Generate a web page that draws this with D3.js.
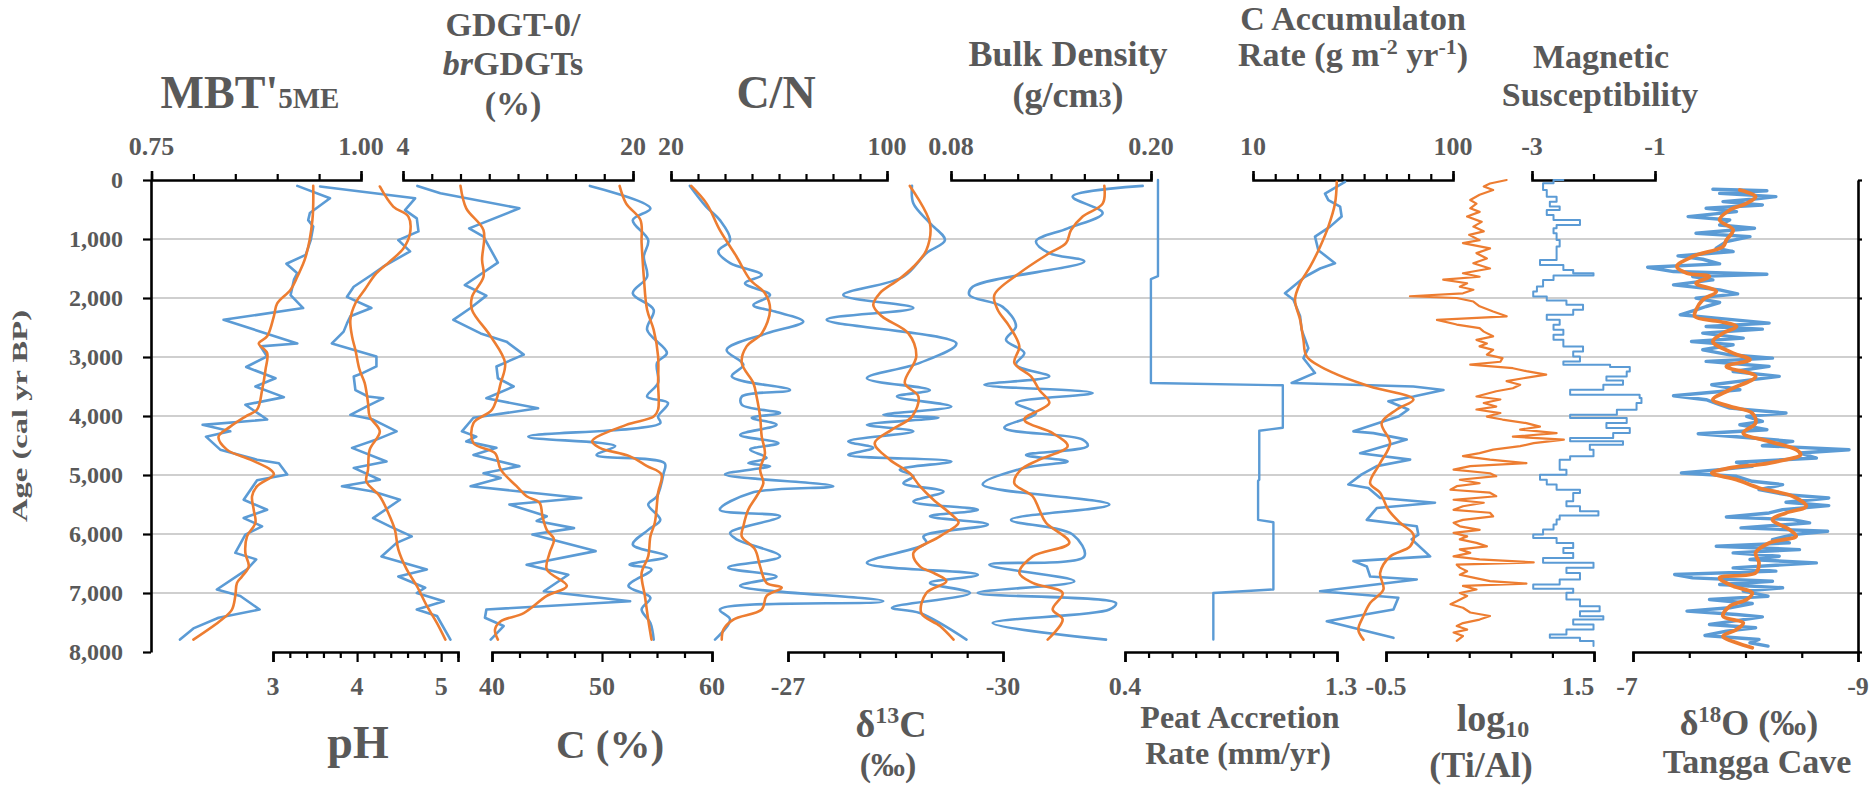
<!DOCTYPE html>
<html>
<head>
<meta charset="utf-8">
<script src="https://cdn.jsdelivr.net/npm/d3@7"></script>
<style>
  body { margin: 0; background: #fff; }
  svg text { font-family: "Liberation Serif", "Times New Roman", serif; font-weight: bold; fill: #595959; }
</style>
</head>
<body>
<svg id="chart" width="1872" height="787"></svg>
<script>
// ---- Core record, ages in cal yr BP; every series is [age, value] ----
const ageTicks = [0, 1000, 2000, 3000, 4000, 5000, 6000, 7000, 8000];

const mbtRaw = [[100,0.924],[310,0.963],[560,0.939],[680,0.937],[790,0.943],[1020,0.940],[1270,0.934],[1420,0.911],[1580,0.924],[1690,0.920],[1950,0.916],[2170,0.931],[2370,0.836],[2770,0.924],[2820,0.880],[2990,0.888],[3170,0.863],[3360,0.898],[3500,0.874],[3680,0.908],[3810,0.862],[4060,0.888],[4150,0.811],[4260,0.844],[4350,0.815],[4570,0.832],[4740,0.876],[4800,0.902],[4990,0.912],[5090,0.876],[5420,0.860],[5590,0.888],[5730,0.860],[5870,0.882],[6010,0.862],[6320,0.850],[6430,0.875],[6600,0.864],[6940,0.828],[7050,0.856],[7280,0.879],[7420,0.830],[7600,0.800],[7790,0.784]];
const mbtSmooth = [[100,0.943],[680,0.942],[1300,0.934],[1640,0.924],[1860,0.916],[2090,0.900],[2310,0.896],[2650,0.888],[2770,0.878],[2930,0.888],[3220,0.886],[3560,0.882],[3890,0.876],[4010,0.862],[4180,0.844],[4350,0.830],[4570,0.840],[4740,0.868],[4910,0.892],[4990,0.896],[5190,0.876],[5360,0.870],[5590,0.872],[5810,0.874],[6040,0.864],[6320,0.862],[6550,0.866],[6720,0.858],[6830,0.852],[7050,0.850],[7280,0.846],[7450,0.834],[7790,0.800]];

const phRaw = [[110,3.56],[310,4.69],[510,4.57],[650,4.71],[870,4.73],[1020,4.49],[1210,4.63],[1470,4.31],[1610,4.17],[1810,3.96],[1980,3.88],[2170,4.17],[2310,3.92],[2430,3.88],[2570,3.84],[2770,3.70],[2990,4.23],[3160,4.23],[3270,4.07],[3330,3.96],[3560,3.98],[3670,4.13],[3700,4.31],[3840,4.11],[3980,3.92],[4060,4.19],[4260,4.47],[4400,4.23],[4540,3.94],[4770,4.35],[4880,3.96],[5080,4.27],[5190,3.82],[5280,4.19],[5420,4.51],[5730,4.19],[5870,4.39],[6040,4.65],[6150,4.47],[6380,4.29],[6600,4.83],[6720,4.49],[6910,4.81],[7000,4.71],[7140,5.03],[7280,4.71],[7390,4.95],[7790,5.11]];
const phSmooth = [[110,4.27],[450,4.43],[620,4.61],[900,4.63],[1160,4.55],[1380,4.39],[1580,4.23],[1860,4.09],[2090,3.98],[2370,3.92],[2650,3.94],[2880,3.98],[3220,4.03],[3440,4.09],[3780,4.13],[4010,4.15],[4260,4.27],[4570,4.15],[4910,4.13],[5110,4.11],[5360,4.27],[5640,4.37],[5930,4.45],[6260,4.49],[6600,4.59],[6880,4.71],[7220,4.83],[7510,4.95],[7790,5.05]];

const gdgtRaw = [[100,5.0],[225,6.6],[480,12.1],[820,8.6],[960,9.6],[1400,10.6],[1780,8.3],[1960,9.8],[2170,8.7],[2370,7.5],[2600,9.4],[2740,11.2],[2960,12.4],[3160,10.5],[3360,10.6],[3500,11.7],[3700,9.8],[3870,13.4],[4030,8.9],[4260,8.1],[4350,9.1],[4430,8.4],[4540,10.5],[4660,8.9],[4850,12.1],[4970,9.6],[5050,10.8],[5190,8.7],[5390,16.4],[5500,11.4],[5700,14.0],[5780,13.3],[5900,15.9],[6010,13.0],[6290,17.4],[6520,12.6],[6690,15.5],[6970,13.8],[7140,19.8],[7280,9.8],[7420,9.7],[7560,11.0],[7790,10.1]];
const gdgtSmooth = [[100,8.0],[480,8.4],[850,9.6],[1350,9.5],[1640,9.6],[1980,8.8],[2200,8.8],[2650,10.1],[3100,11.1],[3440,10.8],[3890,10.2],[4120,8.9],[4460,8.9],[4630,10.4],[4910,10.8],[5190,11.9],[5360,12.6],[5470,13.5],[5700,13.7],[5930,14.0],[6090,14.5],[6320,14.2],[6600,14.0],[6880,15.4],[7050,14.0],[7340,12.4],[7480,10.8],[7620,10.4],[7790,10.6]];

const carbonRaw = [[100,48.9],[480,54.4],[680,52.8],[1020,54.2],[1300,53.8],[1640,54.1],[1920,52.8],[2200,54.7],[2540,54.1],[2930,55.9],[3100,55.0],[3440,55.1],[3670,54.1],[3780,56.0],[4010,55.1],[4120,55.3],[4350,43.3],[4510,51.2],[4660,49.5],[4800,55.7],[4970,55.6],[5360,55.0],[5500,54.2],[5760,55.3],[5930,54.2],[6180,52.8],[6380,55.9],[6520,52.5],[6600,54.5],[6880,52.4],[7080,54.4],[7280,53.6],[7510,54.4],[7790,54.7]];
const carbonSmooth = [[100,51.6],[400,52.2],[680,53.5],[1070,53.6],[1640,53.8],[2200,54.1],[2540,54.7],[2990,55.1],[3440,55.1],[3890,55.1],[4010,54.7],[4150,52.2],[4430,49.1],[4540,49.8],[4680,52.5],[4850,54.1],[4990,55.4],[5300,55.1],[5810,54.8],[6040,54.4],[6380,54.2],[6660,53.6],[7050,53.9],[7450,54.2],[7790,54.5]];

const cnRaw = [[100,27.0],[450,33.0],[680,38.1],[1020,41.9],[1210,37.5],[1410,41.9],[1610,53.6],[1750,47.4],[1950,56.7],[2120,50.5],[2230,58.5],[2400,69.0],[2600,55.4],[2880,40.6],[3130,46.8],[3330,42.5],[3560,64.1],[3670,46.2],[3810,46.2],[3950,60.4],[4030,49.9],[4150,59.1],[4320,45.6],[4460,59.8],[4570,49.3],[4710,55.4],[4800,48.6],[4850,56.7],[4990,40.0],[5190,80.1],[5300,49.9],[5590,38.1],[5700,60.4],[5980,41.9],[6090,44.3],[6380,60.4],[6570,41.2],[6720,59.1],[6880,45.6],[7140,98.6],[7280,38.1],[7450,41.9],[7790,36.3]];
const cnSmooth = [[100,27.5],[400,33.2],[850,38.1],[1300,44.3],[1690,49.3],[1920,54.8],[2200,56.7],[2600,53.6],[2820,48.0],[3100,46.2],[3440,50.5],[3670,51.7],[4010,53.0],[4350,53.6],[4630,54.8],[4910,53.0],[5140,54.2],[5360,51.7],[5590,48.6],[5870,46.8],[6040,46.2],[6260,51.1],[6550,53.0],[6830,55.4],[6910,61.0],[7050,55.4],[7280,53.6],[7450,43.1],[7620,39.4],[7790,38.8]];

const d13cRaw = [[100,-28.73],[400,-28.75],[730,-28.98],[1020,-29.19],[1240,-28.93],[1640,-28.61],[1950,-27.77],[2170,-28.75],[2370,-27.54],[2770,-29.35],[3100,-28.84],[3360,-28.10],[3560,-28.98],[3670,-28.52],[3840,-29.28],[3980,-28.33],[4030,-29.10],[4150,-28.10],[4260,-28.75],[4430,-27.84],[4540,-28.19],[4660,-27.84],[4770,-29.28],[4910,-28.56],[5020,-28.75],[5140,-28.61],[5280,-29.17],[5450,-28.75],[5590,-29.65],[5700,-28.98],[5840,-29.79],[6040,-28.89],[6150,-28.93],[6490,-28.10],[6690,-29.65],[6830,-28.98],[7000,-29.54],[7250,-28.45],[7340,-28.84],[7790,-29.49]];
const d13cSmooth = [[100,-28.70],[730,-28.98],[1190,-28.93],[1470,-28.75],[1690,-28.54],[1920,-28.28],[2120,-28.19],[2310,-28.31],[2600,-28.68],[2990,-28.79],[3440,-28.63],[3670,-28.82],[4010,-28.73],[4230,-28.45],[4460,-28.21],[4740,-28.42],[4970,-28.70],[5190,-28.84],[5420,-29.03],[5700,-29.31],[5810,-29.38],[6040,-29.12],[6320,-28.75],[6550,-28.84],[6660,-29.03],[6800,-29.21],[7000,-28.93],[7340,-28.86],[7560,-29.12],[7790,-29.31]];

const bdRaw = [[100,0.195],[280,0.153],[560,0.171],[820,0.150],[1040,0.131],[1240,0.139],[1380,0.160],[1810,0.093],[1950,0.091],[2150,0.111],[2480,0.119],[2710,0.113],[2930,0.124],[3130,0.119],[3330,0.139],[3470,0.100],[3610,0.165],[3780,0.119],[3950,0.131],[4200,0.112],[4400,0.159],[4510,0.162],[4660,0.125],[4770,0.150],[4880,0.124],[5160,0.099],[5500,0.175],[5760,0.116],[6010,0.153],[6380,0.160],[6520,0.103],[6800,0.154],[7000,0.096],[7170,0.179],[7280,0.175],[7510,0.105],[7790,0.173]];
const bdSmooth = [[100,0.172],[400,0.171],[620,0.159],[850,0.152],[1070,0.149],[1240,0.139],[1580,0.121],[1950,0.106],[2200,0.108],[2480,0.115],[2820,0.121],[3100,0.118],[3330,0.128],[3560,0.133],[3780,0.139],[4060,0.124],[4290,0.141],[4510,0.150],[4740,0.133],[4910,0.122],[5140,0.118],[5360,0.129],[5590,0.133],[5810,0.137],[6150,0.151],[6380,0.129],[6660,0.121],[6830,0.129],[7000,0.147],[7280,0.141],[7450,0.147],[7790,0.138]];

const peatRate = [[0,0.54],[1630,0.54],[1680,0.51],[3440,0.51],[3480,1.07],[4200,1.07],[4250,0.97],[5080,0.97],[5100,0.965],[5760,0.965],[5800,1.03],[6940,1.03],[7000,0.775],[7790,0.775]];

const caccRaw = [[30,51.4],[230,42.4],[340,43.9],[450,49.2],[620,49.9],[790,44.7],[960,37.9],[1190,39.4],[1410,46.9],[1500,40.2],[1640,33.4],[1920,24.4],[2030,28.2],[2310,31.2],[2540,31.9],[2850,34.9],[3020,32.7],[3270,37.9],[3440,27.4],[3500,82.2],[3560,95.7],[3670,82.2],[3750,70.9],[3890,79.9],[4010,75.4],[4260,55.2],[4290,64.2],[4400,79.2],[4630,58.2],[4740,80.7],[4850,65.7],[4990,58.9],[5160,52.9],[5220,61.9],[5390,67.2],[5470,91.9],[5560,65.7],[5760,61.2],[5870,83.7],[6010,84.4],[6090,81.4],[6380,89.7],[6460,55.2],[6550,61.2],[6720,62.7],[6770,83.7],[6970,40.2],[7080,75.4],[7280,73.2],[7480,43.2],[7620,58.2],[7760,73.2]];
const caccSmooth = [[30,47.7],[400,46.9],[790,43.9],[1130,40.2],[1470,35.7],[1750,31.2],[2030,28.9],[2370,31.2],[2710,32.7],[2990,34.2],[3270,46.2],[3500,62.7],[3720,82.2],[3890,74.7],[4120,67.9],[4460,71.7],[4800,67.2],[5140,62.7],[5300,67.2],[5590,70.9],[5810,76.2],[6010,82.2],[6210,80.7],[6380,71.7],[6660,67.2],[6940,68.7],[7170,62.7],[7390,59.7],[7620,57.4],[7790,59.7]];

const tiAl = [[0,0.66],[60,0.50],[110,0.44],[170,0.53],[250,0.40],[340,0.31],[400,0.37],[480,0.31],[540,0.40],[620,0.28],[710,0.42],[790,0.34],[870,0.44],[930,0.30],[1020,0.40],[1070,0.24],[1160,0.50],[1240,0.37],[1330,0.47],[1410,0.34],[1500,0.50],[1580,0.24],[1640,0.40],[1690,0.05],[1750,0.28],[1810,0.21],[1860,0.34],[1920,0.24],[1970,-0.27],[2000,0.18],[2060,0.34],[2140,0.40],[2230,0.53],[2310,0.66],[2370,-0.01],[2450,0.18],[2510,0.40],[2570,0.44],[2650,0.53],[2710,0.37],[2770,0.47],[2820,0.40],[2880,0.53],[2960,0.47],[3020,0.62],[3080,0.60],[3130,0.31],[3190,0.72],[3240,0.85],[3300,1.04],[3360,0.82],[3410,0.66],[3470,0.79],[3530,0.72],[3580,0.56],[3670,0.37],[3720,0.60],[3780,0.44],[3840,0.56],[3890,0.37],[3950,0.60],[4010,0.47],[4060,0.62],[4120,0.85],[4180,0.98],[4230,0.79],[4290,1.14],[4350,0.72],[4400,1.21],[4460,0.92],[4510,0.79],[4570,0.53],[4630,0.40],[4680,0.24],[4740,0.50],[4800,0.85],[4850,0.31],[4910,0.15],[4970,0.50],[5020,0.56],[5080,0.21],[5140,0.40],[5190,0.18],[5250,0.12],[5300,0.50],[5360,0.56],[5420,0.15],[5470,0.44],[5530,0.24],[5590,0.15],[5640,0.50],[5700,0.53],[5760,0.24],[5810,0.15],[5870,0.21],[5930,0.40],[5980,0.15],[6040,0.28],[6090,0.21],[6150,0.37],[6210,0.47],[6260,0.21],[6320,0.31],[6380,0.15],[6430,0.40],[6480,0.92],[6520,0.18],[6570,0.21],[6630,0.28],[6690,0.21],[6740,0.34],[6800,0.50],[6840,0.85],[6880,0.24],[6940,0.37],[7000,0.21],[7050,0.28],[7140,0.18],[7190,0.12],[7250,0.24],[7330,0.31],[7390,0.50],[7450,0.40],[7510,0.24],[7560,0.18],[7620,0.28],[7670,0.15],[7730,0.24],[7810,0.18]];

const magSus = [[0,-2.49],[56,-2.65],[169,-2.82],[282,-2.76],[367,-2.60],[451,-2.71],[508,-2.55],[593,-2.76],[677,-2.65],[762,-2.22],[818,-2.60],[903,-2.65],[1016,-2.60],[1129,-2.55],[1241,-2.60],[1354,-2.60],[1439,-2.87],[1524,-2.49],[1580,-2.33],[1620,-2.00],[1693,-2.65],[1806,-2.82],[1890,-2.92],[1975,-2.98],[2043,-2.76],[2116,-2.44],[2201,-2.17],[2285,-2.33],[2370,-2.76],[2455,-2.55],[2539,-2.65],[2624,-2.49],[2709,-2.65],[2822,-2.49],[2906,-2.17],[2991,-2.33],[3075,-2.22],[3132,-2.49],[3171,-1.73],[3245,-1.41],[3329,-1.46],[3397,-1.79],[3470,-1.52],[3555,-1.84],[3640,-2.38],[3696,-1.25],[3781,-1.22],[3894,-1.30],[3978,-1.62],[4035,-2.38],[4119,-1.46],[4204,-1.79],[4289,-1.41],[4373,-1.68],[4430,-2.38],[4486,-1.52],[4571,-2.06],[4684,-2.00],[4740,-2.38],[4797,-2.55],[4909,-2.55],[4994,-2.44],[5079,-2.87],[5163,-2.76],[5248,-2.60],[5304,-2.22],[5361,-2.33],[5446,-2.33],[5530,-2.44],[5615,-2.22],[5688,-1.92],[5756,-2.55],[5840,-2.60],[5925,-2.65],[6010,-2.82],[6066,-2.98],[6151,-2.60],[6236,-2.33],[6320,-2.49],[6405,-2.33],[6489,-2.82],[6574,-2.00],[6659,-2.44],[6772,-2.22],[6856,-2.55],[6930,-2.98],[6997,-2.33],[7110,-2.44],[7223,-2.22],[7308,-1.90],[7392,-2.22],[7449,-1.84],[7533,-2.33],[7618,-2.00],[7703,-2.44],[7759,-2.71],[7815,-2.22],[7900,-2.00]];

const d18oRaw = [[158,-7.71],[181,-8.19],[226,-7.77],[282,-8.27],[327,-8.06],[367,-7.80],[423,-8.15],[480,-7.65],[536,-7.92],[621,-7.49],[677,-7.86],[762,-7.77],[818,-8.08],[903,-7.56],[959,-8.04],[1044,-7.83],[1157,-7.74],[1213,-7.89],[1287,-7.40],[1343,-7.62],[1422,-7.77],[1478,-7.13],[1552,-7.36],[1597,-8.19],[1636,-7.53],[1693,-7.71],[1778,-7.36],[1862,-7.77],[1930,-7.93],[2003,-7.56],[2077,-7.77],[2144,-7.65],[2201,-7.56],[2285,-7.42],[2342,-7.74],[2426,-8.21],[2483,-7.65],[2528,-8.15],[2596,-7.62],[2680,-7.98],[2737,-7.52],[2793,-7.89],[2878,-7.62],[2963,-7.86],[3019,-8.24],[3075,-7.65],[3160,-8.21],[3245,-7.89],[3329,-8.30],[3397,-8.01],[3470,-7.70],[3555,-7.95],[3657,-7.36],[3724,-7.65],[3809,-7.77],[3866,-7.86],[3950,-8.36],[4006,-8.01],[4091,-8.15],[4148,-7.95],[4232,-8.19],[4300,-7.58],[4373,-8.06],[4430,-8.42],[4503,-8.15],[4571,-8.92],[4627,-8.48],[4712,-8.63],[4785,-7.92],[4853,-8.06],[4909,-7.77],[4966,-7.43],[5022,-7.92],[5107,-8.06],[5163,-8.33],[5248,-8.12],[5333,-8.36],[5389,-8.74],[5462,-8.36],[5519,-8.74],[5587,-8.33],[5643,-8.21],[5711,-7.83],[5756,-8.42],[5812,-8.57],[5897,-7.96],[5953,-8.73],[6010,-8.42],[6094,-8.24],[6151,-8.39],[6207,-7.74],[6264,-8.48],[6320,-7.89],[6377,-8.30],[6433,-8.04],[6489,-8.63],[6574,-7.89],[6630,-8.27],[6687,-7.37],[6743,-7.53],[6800,-8.24],[6856,-7.77],[6912,-8.33],[6969,-7.98],[7054,-8.20],[7110,-7.68],[7178,-8.06],[7251,-7.86],[7308,-7.48],[7364,-7.92],[7404,-8.15],[7477,-7.89],[7533,-7.68],[7590,-8.09],[7646,-7.83],[7720,-7.64],[7787,-8.12],[7844,-8.04],[7900,-8.20]];
const d18oSmooth = [[169,-7.95],[282,-8.09],[395,-8.01],[508,-7.86],[677,-7.77],[846,-7.89],[1016,-7.83],[1129,-7.80],[1298,-7.53],[1467,-7.39],[1580,-7.48],[1636,-7.68],[1749,-7.56],[1890,-7.74],[2031,-7.62],[2201,-7.56],[2314,-7.55],[2398,-7.77],[2483,-7.92],[2596,-7.80],[2737,-7.71],[2934,-7.89],[3047,-8.04],[3160,-7.83],[3329,-8.09],[3555,-7.86],[3724,-7.71],[3837,-7.86],[3950,-8.06],[4119,-8.09],[4289,-7.98],[4430,-8.21],[4571,-8.45],[4655,-8.49],[4797,-8.21],[4881,-7.86],[4966,-7.70],[5079,-7.92],[5220,-8.12],[5361,-8.42],[5530,-8.54],[5643,-8.36],[5756,-8.24],[5925,-8.39],[6038,-8.45],[6151,-8.21],[6320,-8.09],[6489,-8.12],[6659,-8.09],[6743,-7.77],[6884,-7.89],[6997,-8.06],[7110,-8.01],[7223,-7.86],[7392,-7.80],[7505,-7.98],[7618,-7.92],[7731,-7.80],[7844,-7.92],[7928,-8.06]];

// Axis tick positions and the end labels each axis carries: [value, text, nudge]
const mbtTicks = [0.75, 0.80, 0.85, 0.90, 0.95, 1.00];
const mbtLabels = [[0.75, "0.75", 0], [1.00, "1.00", 0]];
const gdgtTicks = [4, 6, 8, 10, 12, 14, 16, 18, 20];
const gdgtLabels = [[4, "4", 0], [20, "20", 0]];
const cnTicks = [20, 30, 40, 50, 60, 70, 80, 90, 100];
const cnLabels = [[20, "20", 0], [100, "100", 0]];
const bdTicks = [0.08, 0.10, 0.12, 0.14, 0.16, 0.18, 0.20];
const bdLabels = [[0.08, "0.08", 0], [0.20, "0.20", 0]];
const caccTicks = [10, 20, 30, 40, 50, 60, 70, 80, 90, 100];
const caccLabels = [[10, "10", 0], [100, "100", 0]];
const magTicks = [-3, -2, -1];
const magLabels = [[-3, "-3", 0], [-1, "-1", 0]];

const phTicks = [3.0, 3.2, 3.4, 3.6, 3.8, 4.0, 4.2, 4.4, 4.6, 4.8, 5.0, 5.2];
const phLabels = [[3, "3", 0], [4, "4", 0], [5, "5", 0]];
const carbonTicks = [40, 42.5, 45, 47.5, 50, 52.5, 55, 57.5, 60];
const carbonLabels = [[40, "40", 0], [50, "50", 0], [60, "60", 0]];
const d13cTicks = [-27, -27.5, -28, -28.5, -29, -29.5, -30];
const d13cLabels = [[-27, "-27", 0], [-30, "-30", 0]];
const peatTicks = [0.4, 0.5, 0.6, 0.7, 0.8, 0.9, 1.0, 1.1, 1.2, 1.3];
const peatLabels = [[0.4, "0.4", 0], [1.3, "1.3", 4]];
const tiAlTicks = [-0.5, -0.1, 0.3, 0.7, 1.1, 1.5];
const tiAlLabels = [[-0.5, "-0.5", 0], [1.5, "1.5", -16]];
const d18oTicks = [-7, -7.5, -8, -8.5, -9];
const d18oLabels = [[-7, "-7", -6], [-9, "-9", 0]];

// ---- Drawing ----
const BLUE = "#5B9BD5", ORANGE = "#ED7D31";
const svg = d3.select("#chart");
const TOP = 180, BOTTOM = 652, LEFT = 151, RIGHT = 1858;

const y = d3.scaleLinear().domain([0, 8000]).range([TOP, BOTTOM]);

const xMBT = d3.scaleLinear().domain([0.75, 1.00]).range([151.5, 361]);
const xPH = d3.scaleLinear().domain([3, 5.2]).range([273, 458]);
const xGDGT = d3.scaleLinear().domain([4, 20]).range([403, 633]);
const xC = d3.scaleLinear().domain([40, 60]).range([492, 712]);
const xCN = d3.scaleLinear().domain([20, 100]).range([671, 887]);
const xD13C = d3.scaleLinear().domain([-27, -30]).range([788, 1003]);
const xBD = d3.scaleLinear().domain([0.08, 0.20]).range([951, 1151]);
const xPeat = d3.scaleLinear().domain([0.4, 1.3]).range([1125, 1337]);
const xCacc = d3.scaleLinear().domain([10, 100]).range([1253, 1453]);
const xTiAl = d3.scaleLinear().domain([-0.5, 1.5]).range([1386, 1594]);
const xMag = d3.scaleLinear().domain([-3, -1]).range([1532, 1655]);
const xD18O = d3.scaleLinear().domain([-7, -9]).range([1633, 1858]);

// horizontal age grid
svg.append("g").selectAll("line")
  .data(ageTicks.filter(a => a > 0 && a < 8000))
  .join("line")
  .attr("x1", LEFT).attr("x2", RIGHT)
  .attr("y1", d => y(d)).attr("y2", d => y(d))
  .attr("stroke", "#bfbfbf").attr("stroke-width", 1.6);

function styleAxis(g) {
  g.attr("font-size", null).attr("font-family", null);
  g.selectAll("path.domain").attr("stroke", "#000").attr("stroke-width", 2.6).attr("fill", "none");
  g.selectAll(".tick line").attr("stroke", "#000").attr("stroke-width", 2.2);
}

function topAxis(scale, ticks, labels) {
  const g = svg.append("g").attr("transform", `translate(0,${TOP})`);
  g.call(d3.axisTop(scale).tickValues(ticks).tickSize(6).tickSizeOuter(9).tickFormat(""));
  styleAxis(g);
  g.selectAll(".tick text").remove();
  g.selectAll("text.lab").data(labels).join("text").attr("class", "lab")
    .attr("x", d => scale(d[0]) + d[2]).attr("y", -25)
    .attr("text-anchor", "middle").attr("font-size", 26).text(d => d[1]);
}

function bottomAxis(scale, ticks, labels) {
  const g = svg.append("g").attr("transform", `translate(0,${BOTTOM})`);
  g.call(d3.axisBottom(scale).tickValues(ticks).tickSize(6).tickSizeOuter(10).tickFormat(""));
  styleAxis(g);
  g.selectAll(".tick text").remove();
  const major = labels.map(l => l[0]);
  g.selectAll(".tick line").attr("y2", d => major.some(m => Math.abs(m - d) < 1e-6) ? 10 : 6);
  g.selectAll("text.lab").data(labels).join("text").attr("class", "lab")
    .attr("x", d => scale(d[0]) + d[2]).attr("y", 43)
    .attr("text-anchor", "middle").attr("font-size", 26).text(d => d[1]);
}

topAxis(xMBT, mbtTicks, mbtLabels);
topAxis(xGDGT, gdgtTicks, gdgtLabels);
topAxis(xCN, cnTicks, cnLabels);
topAxis(xBD, bdTicks, bdLabels);
topAxis(xCacc, caccTicks, caccLabels);
topAxis(xMag, magTicks, magLabels);

bottomAxis(xPH, phTicks, phLabels);
bottomAxis(xC, carbonTicks, carbonLabels);
bottomAxis(xD13C, d13cTicks, d13cLabels);
bottomAxis(xPeat, peatTicks, peatLabels);
bottomAxis(xTiAl, tiAlTicks, tiAlLabels);
bottomAxis(xD18O, d18oTicks, d18oLabels);

// left age axis
const yAxisG = svg.append("g").attr("transform", `translate(${LEFT},0)`)
  .call(d3.axisLeft(y).tickValues(ageTicks).tickSize(8).tickSizeOuter(0).tickPadding(20).tickFormat(d3.format(",")));
styleAxis(yAxisG);
yAxisG.selectAll(".tick text").attr("font-size", 24).attr("fill", "#595959");

// right frame of the speleothem panel
const rAxisG = svg.append("g").attr("transform", `translate(${RIGHT},0)`)
  .call(d3.axisRight(y).tickValues(ageTicks).tickSize(4).tickSizeOuter(0).tickFormat(""));
styleAxis(rAxisG);
rAxisG.selectAll(".tick text").remove();

svg.append("text")
  .attr("transform", `translate(27,${(TOP + BOTTOM) / 2}) rotate(-90)`)
  .attr("text-anchor", "middle").attr("font-size", 21)
  .attr("textLength", 212).attr("lengthAdjust", "spacingAndGlyphs")
  .text("Age (cal yr BP)");

// series
function profile(data, xs, color, width, curve) {
  const line = d3.line().x(d => xs(d[1])).y(d => y(d[0])).curve(curve || d3.curveLinear);
  svg.append("path").datum(data).attr("d", line)
    .attr("fill", "none").attr("stroke", color).attr("stroke-width", width)
    .attr("stroke-linejoin", "round").attr("stroke-linecap", "round");
}
const smooth = d3.curveCatmullRom.alpha(0.5);

profile(mbtRaw, xMBT, BLUE, 2.6);
profile(mbtSmooth, xMBT, ORANGE, 2.6, smooth);
profile(phRaw, xPH, BLUE, 2.6);
profile(phSmooth, xPH, ORANGE, 2.6, smooth);
profile(gdgtRaw, xGDGT, BLUE, 2.6);
profile(gdgtSmooth, xGDGT, ORANGE, 2.6, smooth);
profile(carbonRaw, xC, BLUE, 2.6, smooth);
profile(carbonSmooth, xC, ORANGE, 2.6, smooth);
profile(cnRaw, xCN, BLUE, 2.6, smooth);
profile(cnSmooth, xCN, ORANGE, 2.6, smooth);
profile(d13cRaw, xD13C, BLUE, 2.6, smooth);
profile(d13cSmooth, xD13C, ORANGE, 2.6, smooth);
profile(bdRaw, xBD, BLUE, 2.6, smooth);
profile(bdSmooth, xBD, ORANGE, 2.6, smooth);
profile(peatRate, xPeat, BLUE, 2.4);
profile(caccRaw, xCacc, BLUE, 2.6);
profile(caccSmooth, xCacc, ORANGE, 2.6, smooth);
profile(tiAl, xTiAl, ORANGE, 2.2);
profile(magSus, xMag, BLUE, 2.0, d3.curveStepAfter);
profile(d18oRaw, xD18O, BLUE, 3.4);
profile(d18oSmooth, xD18O, ORANGE, 3.8, smooth);

// ---- Titles ----
function title(x, yPos, size, parts) {
  const t = svg.append("text").attr("x", x).attr("y", yPos)
    .attr("text-anchor", "middle").attr("font-size", size);
  parts.forEach(p => {
    const s = t.append("tspan").text(p.t);
    if (p.size) s.attr("font-size", p.size);
    if (p.dy) s.attr("dy", p.dy);
    if (p.italic) s.attr("font-style", "italic");
  });
  return t;
}

title(250, 108, 46, [{t: "MBT'"}, {t: "5ME", size: 29}]);
title(513, 36, 34, [{t: "GDGT-0/"}]);
title(513, 75, 34, [{t: "br", italic: true}, {t: "GDGTs"}]);
title(513, 115, 34, [{t: "(%)"}]);
title(776, 108, 46, [{t: "C/N"}]);
title(1068, 66, 36, [{t: "Bulk Density"}]);
title(1068, 107, 36, [{t: "(g/cm"}, {t: "3", size: 26}, {t: ")"}]);
title(1353, 30, 34, [{t: "C Accumulaton"}]);
title(1353, 66, 34, [{t: "Rate (g m"}, {t: "-2", size: 22, dy: -12}, {t: " yr", dy: 12}, {t: "-1", size: 22, dy: -12}, {t: ")", dy: 12}]);
title(1601, 68, 34, [{t: "Magnetic"}]);
title(1600, 106, 34, [{t: "Susceptibility"}]);

title(358, 758, 46, [{t: "pH"}]);
title(610, 758, 41, [{t: "C (%)"}]);
title(891, 737, 38, [{t: "δ"}, {t: "13", size: 24, dy: -14}, {t: "C", dy: 14}]);
title(888, 776, 34, [{t: "(‰)"}]);
title(1240, 728, 32, [{t: "Peat Accretion"}]);
title(1238, 764, 32, [{t: "Rate (mm/yr)"}]);
title(1493, 731, 38, [{t: "log"}, {t: "10", size: 24, dy: 6}]);
title(1481, 777, 36, [{t: "(Ti/Al)"}]);
title(1749, 735, 36, [{t: "δ"}, {t: "18", size: 23, dy: -13}, {t: "O (‰)", dy: 13}]);
title(1757, 773, 34, [{t: "Tangga Cave"}]);
</script>
</body>
</html>
